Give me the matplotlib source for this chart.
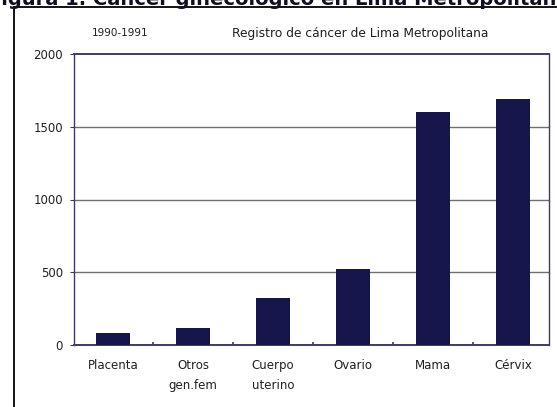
import matplotlib.pyplot as plt
from matplotlib.patches import Rectangle

# data
categories = ["Placenta", "Otros\ngen.fem", "Cuerpo\nuterino", "Ovario", "Mama", "Cérvix"]
cases = [80, 115, 325, 520, 1600, 1690]
yticks = [0, 500, 1000, 1500, 2000]

navy = "#16164c"
spine = "#3c3c64"

fig = plt.figure(figsize=(5.57, 4.07), dpi=100)

# outer frame of the scanned figure (cut by image edges)
fig.patches.append(Rectangle((14/557, -0.1), 1.2, 1.1 - 7/407,
                             transform=fig.transFigure, fill=False,
                             edgecolor="black", lw=1.3))

# caption, cut off at the top like in the scan
fig.text(0.5, 1 - 5/407, "Figura 1. Cáncer ginecológico en Lima Metropolitana",
         ha="center", va="baseline", fontsize=14, fontweight="bold",
         color="#101020")

ax = fig.add_axes([74/557, 1 - 345/407, 475/557, 291/407])

x = range(len(categories))
ax.bar(x, cases, width=0.42, color=navy, zorder=3)

ax.set_xlim(-0.49, 5.45)
ax.set_ylim(0, 2000)
ax.set_yticks(yticks)
ax.set_yticklabels([str(v) for v in yticks], fontsize=8.5, color="#202020")
ax.tick_params(axis="y", length=3, width=0.8, color=spine, pad=5)

ax.set_xticks(list(x))
ax.set_xticklabels(categories, fontsize=8.5, color="#202020", linespacing=1.75)
ax.set_xticks([i + 0.5 for i in range(len(categories) - 1)], minor=True)
ax.tick_params(axis="x", which="major", length=0, pad=10)
ax.tick_params(axis="x", which="minor", length=2, width=1.2, color=spine,
               direction="in")

for v in yticks[1:-1]:
    ax.axhline(v, color="#707070", lw=1.0, zorder=1)

for s in ax.spines.values():
    s.set_color(spine)
    s.set_linewidth(1.0)
ax.spines["top"].set_linewidth(1.4)
ax.spines["bottom"].set_linewidth(1.4)

fig.text(120/557, 1 - 33/407, "1990-1991", ha="center", va="center",
         fontsize=7.5, color="#202020")
fig.text(360/557, 1 - 33/407, "Registro de cáncer de Lima Metropolitana",
         ha="center", va="center", fontsize=8.8, color="#202020")

fig.savefig("out.png", dpi=100)
